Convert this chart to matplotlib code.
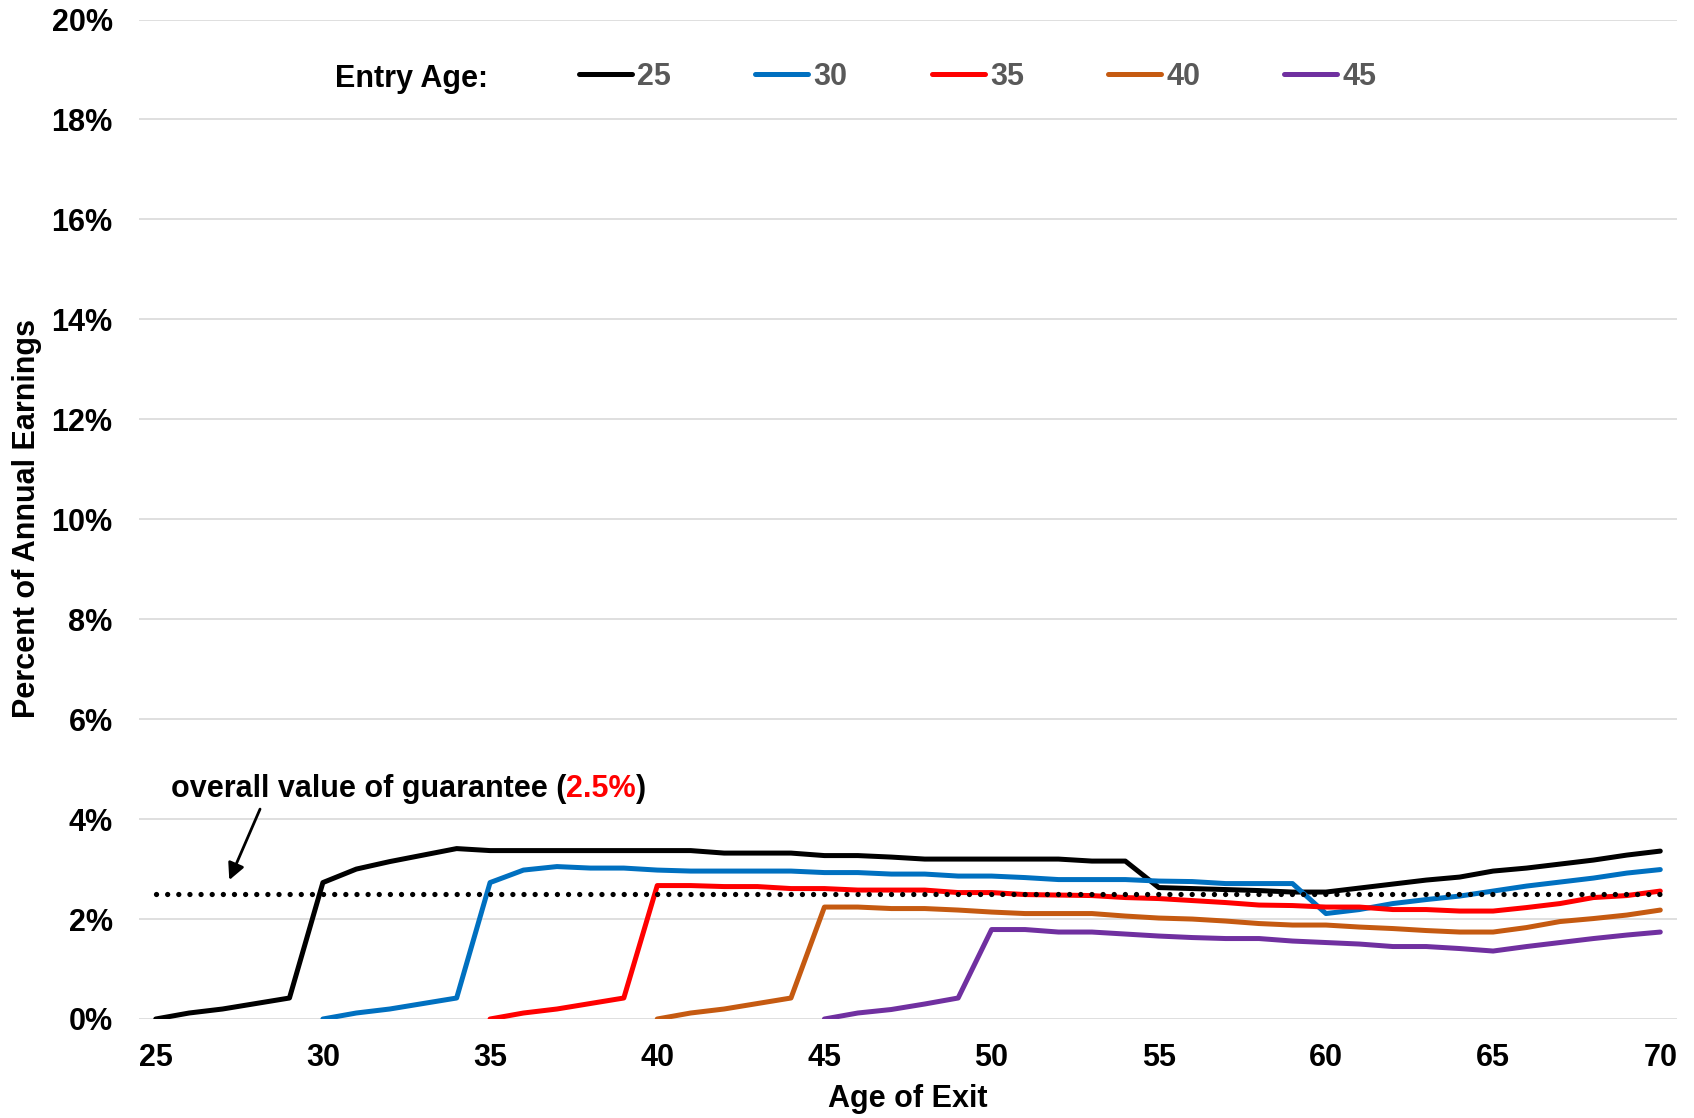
import matplotlib
matplotlib.use("Agg")
import matplotlib.pyplot as plt
import numpy as np

plt.rcParams['font.family'] = ['Liberation Sans', 'DejaVu Sans']
plt.rcParams['font.weight'] = 'bold'

# data (percent of annual earnings by age of exit)
ages = list(range(25, 71))
entry_ages = [25, 30, 35, 40, 45]
val_25 = [0, 0.12, 0.2, 0.31, 0.42, 2.73, 3.0, 3.15, 3.28, 3.41,
          3.37, 3.37, 3.37, 3.37, 3.37, 3.37, 3.37, 3.32, 3.32, 3.32,
          3.27, 3.27, 3.24, 3.2, 3.2, 3.2, 3.2, 3.2, 3.16, 3.16,
          2.63, 2.61, 2.59, 2.57, 2.54, 2.54, 2.62, 2.7, 2.78, 2.84,
          2.96, 3.02, 3.1, 3.18, 3.28, 3.36]
val_30 = [0, 0.12, 0.2, 0.31, 0.42, 2.73, 2.98, 3.05, 3.02, 3.02,
          2.98, 2.96, 2.96, 2.96, 2.96, 2.93, 2.93, 2.9, 2.9, 2.86,
          2.86, 2.83, 2.79, 2.79, 2.79, 2.76, 2.75, 2.71, 2.71, 2.71,
          2.11, 2.19, 2.31, 2.39, 2.46, 2.56, 2.66, 2.74, 2.82, 2.92, 2.99]
val_35 = [0, 0.12, 0.2, 0.31, 0.42, 2.67, 2.67, 2.65, 2.65, 2.61,
          2.61, 2.58, 2.58, 2.58, 2.53, 2.53, 2.49, 2.48, 2.47, 2.43,
          2.41, 2.37, 2.33, 2.28, 2.27, 2.24, 2.24, 2.19, 2.19, 2.16,
          2.16, 2.23, 2.31, 2.43, 2.47, 2.56]
val_40 = [0, 0.12, 0.2, 0.31, 0.42, 2.24, 2.24, 2.21, 2.21, 2.18,
          2.14, 2.11, 2.11, 2.11, 2.06, 2.02, 2.0, 1.96, 1.91, 1.88,
          1.88, 1.84, 1.81, 1.77, 1.74, 1.74, 1.83, 1.95, 2.01, 2.08, 2.18]
val_45 = [0, 0.12, 0.19, 0.3, 0.42, 1.79, 1.79, 1.74, 1.74, 1.7,
          1.66, 1.63, 1.61, 1.61, 1.56, 1.53, 1.5, 1.45, 1.45, 1.41,
          1.36, 1.45, 1.53, 1.61, 1.68, 1.74]
series = [val_25, val_30, val_35, val_40, val_45]
colors = ['#000000', '#0070C0', '#FF0000', '#C55A11', '#7030A0']
overall_value = 2.5
y_ticks = list(range(0, 21, 2))
x_ticks = list(range(25, 71, 5))

FS = 22
W, H = 1694, 1118
fig = plt.figure(figsize=(W / 100, H / 100), dpi=100)
ax = fig.add_axes([139 / W, 1 - 1019 / H, (1677 - 139) / W, (1019 - 19.5) / H])

for entry, vals, c in zip(entry_ages, series, colors):
    x = ages[entry - 25:]
    ax.plot(x, vals, color=c, lw=3.6, solid_capstyle='round', solid_joinstyle='round',
            label=str(entry), zorder=3)

ax.plot([ages[0], ages[-1]], [overall_value, overall_value], color='black', lw=3.8,
        linestyle=(0, (0.01, 2.1)), dash_capstyle='round', zorder=4)

ax.set_xlim(24.5, 70.5)
ax.set_ylim(0, 20)
ax.set_yticks(y_ticks)
ax.set_yticklabels([f"{v}%" for v in y_ticks])
ax.set_xticks(x_ticks)
ax.grid(axis='y', color='#D9D9D9', lw=1.2, zorder=0)
ax.set_axisbelow(True)
for s in ax.spines.values():
    s.set_visible(False)
ax.tick_params(axis='both', length=0, labelsize=FS, colors='black')
ax.tick_params(axis='y', pad=19)
ax.tick_params(axis='x', pad=17)

fig.text(27 / W, 1 - 519 / H, "Percent of Annual Earnings", rotation=90,
         ha='center', va='center', fontsize=FS, fontweight='bold')
fig.text(908 / W, 1 - 1099 / H, "Age of Exit", ha='center', va='center',
         fontsize=FS, fontweight='bold')

# legend
fig.text(335 / W, 1 - 79 / H, "Entry Age:", ha='left', va='center',
         fontsize=FS, fontweight='bold')
leg = fig.legend(loc='center left', bbox_to_anchor=(579 / W, 1 - 77 / H), ncol=5,
                 frameon=False, fontsize=FS, handlelength=1.73, handletextpad=0.18,
                 columnspacing=2.75, borderpad=0, borderaxespad=0)
for t in leg.get_texts():
    t.set_color('#595959')
    t.set_fontweight('bold')

# annotation
ax.annotate("", xy=(27.2, 2.78), xytext=(28.12, 4.2),
            arrowprops=dict(arrowstyle='-|>', color='black', lw=2,
                            mutation_scale=25, shrinkA=0, shrinkB=0))
t1 = fig.text(171 / W, 1 - 789 / H, "overall value of guarantee (", ha='left',
              va='center', fontsize=FS, fontweight='bold')
fig.canvas.draw()
bb = t1.get_window_extent()
t2 = fig.text(bb.x1 / W, 1 - 789 / H, f"{overall_value}%", ha='left', va='center',
              fontsize=FS, fontweight='bold', color='#FF0000')
fig.canvas.draw()
bb2 = t2.get_window_extent()
fig.text(bb2.x1 / W, 1 - 789 / H, ")", ha='left', va='center', fontsize=FS,
         fontweight='bold')

fig.savefig("out.png", dpi=100)
